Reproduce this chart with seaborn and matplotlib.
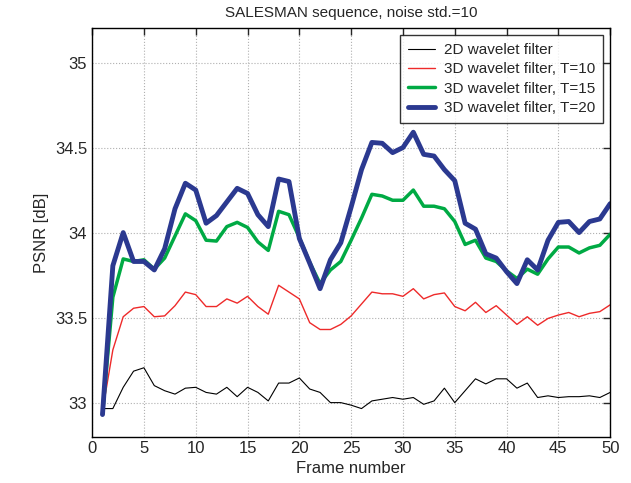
import numpy as np
import pandas as pd
import matplotlib
matplotlib.use("Agg")
import matplotlib.pyplot as plt
import seaborn as sns
from matplotlib.ticker import FuncFormatter

frames = list(range(1, 51))

psnr_2d = [32.965, 32.965, 33.09, 33.185, 33.205, 33.10, 33.07, 33.05, 33.085, 33.09,
           33.06, 33.05, 33.09, 33.035, 33.09, 33.06, 33.01, 33.115, 33.115, 33.145,
           33.08, 33.06, 33.00, 33.00, 32.985, 32.965, 33.01, 33.02, 33.03, 33.02,
           33.03, 32.99, 33.01, 33.085, 33.00, 33.07, 33.14, 33.11, 33.14, 33.14,
           33.085, 33.115, 33.03, 33.04, 33.03, 33.035, 33.035, 33.04, 33.03, 33.06]

psnr_t10 = [32.95, 33.31, 33.505, 33.555, 33.565, 33.505, 33.51, 33.57, 33.65, 33.635,
            33.565, 33.565, 33.61, 33.585, 33.625, 33.565, 33.52, 33.69, 33.65, 33.61,
            33.47, 33.43, 33.43, 33.46, 33.51, 33.58, 33.65, 33.64, 33.64, 33.625,
            33.67, 33.61, 33.635, 33.645, 33.565, 33.54, 33.59, 33.53, 33.57, 33.515,
            33.46, 33.505, 33.455, 33.495, 33.515, 33.53, 33.505, 33.525, 33.535, 33.575]

psnr_t15 = [32.93, 33.62, 33.845, 33.83, 33.84, 33.785, 33.85, 33.98, 34.11, 34.07,
            33.955, 33.95, 34.035, 34.06, 34.03, 33.945, 33.895, 34.125, 34.105, 33.97,
            33.825, 33.70, 33.78, 33.83, 33.955, 34.085, 34.225, 34.215, 34.19, 34.19,
            34.25, 34.155, 34.155, 34.14, 34.065, 33.93, 33.955, 33.85, 33.83, 33.775,
            33.73, 33.785, 33.755, 33.845, 33.915, 33.915, 33.88, 33.91, 33.925, 33.99]

psnr_t20 = [32.93, 33.805, 34.0, 33.83, 33.83, 33.78, 33.905, 34.14, 34.29, 34.25,
            34.055, 34.10, 34.18, 34.26, 34.23, 34.105, 34.035, 34.315, 34.30, 33.965,
            33.82, 33.67, 33.84, 33.94, 34.15, 34.37, 34.53, 34.525, 34.47, 34.50,
            34.59, 34.46, 34.45, 34.37, 34.305, 34.055, 34.02, 33.875, 33.85, 33.77,
            33.70, 33.84, 33.78, 33.955, 34.06, 34.065, 34.00, 34.065, 34.08, 34.17]

series = [
    ("2D wavelet filter", psnr_2d, "black", 0.8),
    ("3D wavelet filter, T=10", psnr_t10, "#ee2a2a", 1.0),
    ("3D wavelet filter, T=15", psnr_t15, "#00aa44", 2.5),
    ("3D wavelet filter, T=20", psnr_t20, "#2b3990", 3.5),
]

sns.set_style("white")
plt.rcParams["font.family"] = ["Liberation Sans", "DejaVu Sans"]

fig = plt.figure(figsize=(6.31, 4.83), dpi=100)
ax = fig.add_axes([0.146, 0.096, 0.821, 0.845])

for name, vals, col, lw in series:
    sns.lineplot(x=frames, y=vals, color=col, linewidth=lw, label=name, ax=ax)

ax.set_xlim(0, 50)
ax.set_ylim(32.8, 35.2)
ax.set_xticks(range(0, 51, 5))
ax.set_yticks([33, 33.5, 34, 34.5, 35])
ax.yaxis.set_major_formatter(FuncFormatter(lambda v, p: "%g" % v))
ax.grid(True, linestyle=":", color="#b0b0b0", linewidth=0.8)
ax.tick_params(direction="in", top=True, right=True, labelsize=12, length=5, width=1)
for s in ax.spines.values():
    s.set_color("black")
    s.set_linewidth(1.0)

ax.set_xlabel("Frame number", fontsize=12, labelpad=3)
ax.set_ylabel("PSNR [dB]", fontsize=12)
ax.set_title("SALESMAN sequence, noise std.=10", fontsize=11, pad=8)

leg = ax.legend(loc="upper right", fontsize=11, frameon=True, fancybox=False,
                edgecolor="black", borderaxespad=0.45, handlelength=1.8,
                handletextpad=0.6, labelspacing=0.35, borderpad=0.5)
leg.get_frame().set_linewidth(1.0)

fig.savefig("out.png", dpi=100)
